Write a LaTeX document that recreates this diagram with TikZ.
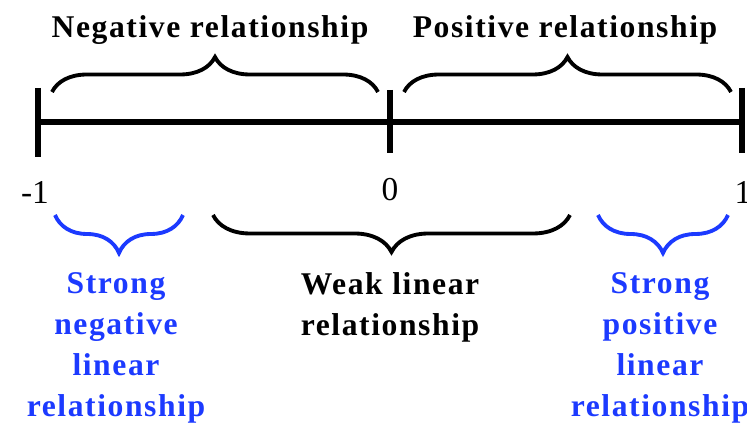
\documentclass[tikz,border=0pt]{standalone}
\usepackage{fontspec}
\setmainfont{Liberation Serif}
\newfontfamily\spacedfont{Liberation Serif}[LetterSpace=5]
\usetikzlibrary{decorations.pathreplacing,positioning}
\definecolor{strongblue}{RGB}{28,58,255}
\tikzset{x=0.02cm, y=-0.02cm,
  axisline/.style={line width=2.9pt},
  bracket/.style={line width=2.2pt, decorate, decoration={brace, amplitude=#1}},
  label/.style={font=\spacedfont\fontsize{18}{23.3}\selectfont\bfseries, align=center, inner sep=0pt},
  ticklabel/.style={font=\fontsize{19}{22}\selectfont, inner sep=0pt}}

\begin{document}
\begin{tikzpicture}
\useasboundingbox (0,0) rectangle (747,428);
% axis with ticks
\coordinate (left) at (38,122);
\coordinate (mid) at (390,122);
\coordinate (right) at (742,122);
\draw[axisline] (left) -- (right);
\draw[axisline] (38,88) -- (38,157);
\draw[axisline] (390,90) -- (390,153);
\draw[axisline] (742,88) -- (742,153);
\node[ticklabel] (minusone) at (35,192) {-1};
\node[ticklabel] (zero) at (390,190) {0};
\node[ticklabel] (one) at (743,192) {1};
% braces above
\coordinate (nega) at (52,92);
\coordinate (negb) at (378,92);
\coordinate (posa) at (404,92);
\coordinate (posb) at (731,92);
\draw[bracket=0.7cm] (nega) -- (negb);
\draw[bracket=0.7cm] (posa) -- (posb);
\node[label] (neg) at (210,30) {Negative relationship};
\node[label] (pos) at (565,30) {Positive relationship};
% braces below
\coordinate (sna) at (55,215);
\coordinate (snb) at (183,215);
\coordinate (wka) at (213,215);
\coordinate (wkb) at (570,215);
\coordinate (spa) at (598,215);
\coordinate (spb) at (728,215);
\draw[bracket=0.76cm, strongblue] (snb) -- (sna);
\draw[bracket=0.74cm] (wkb) -- (wka);
\draw[bracket=0.76cm, strongblue] (spb) -- (spa);
\node[label, strongblue, anchor=north] (strongneg) at (116,272) {Strong\\negative\\linear\\relationship};
\node[label, anchor=north] (weak) at (390,272) {Weak linear\\relationship};
\node[label, strongblue, anchor=north] (strongpos) at (660,272) {Strong\\positive\\linear\\relationship};
\end{tikzpicture}
\end{document}
